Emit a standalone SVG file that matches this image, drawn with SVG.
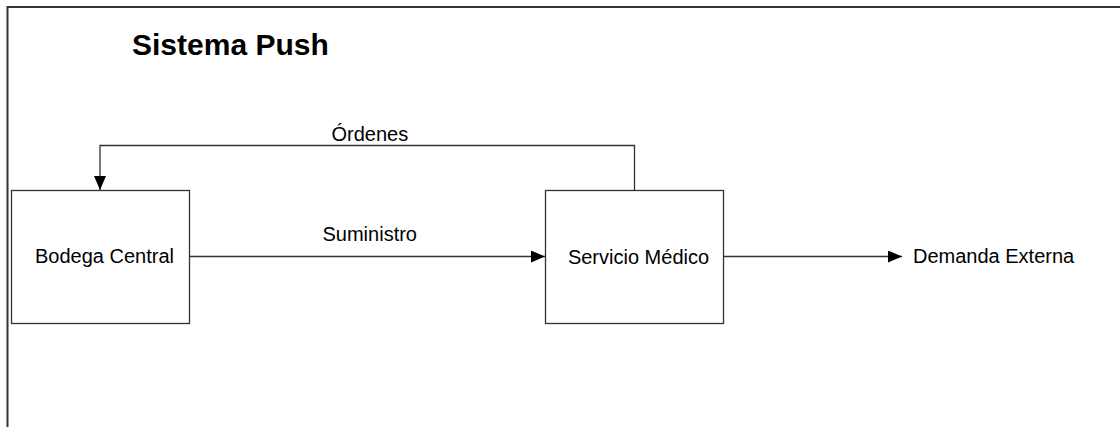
<svg xmlns="http://www.w3.org/2000/svg" width="1120" height="427" viewBox="0 0 1120 427">
<style>
text{font-family:"Liberation Sans",Arial,sans-serif;fill:#000}
.lbl{font-size:20px}
.title{font-size:30px;font-weight:bold}
.box{fill:#fff;stroke:#333;stroke-width:1.3}
.conn{fill:none;stroke:#333;stroke-width:1.3}
.frame{fill:none;stroke:#333;stroke-width:2}
</style>
<defs>
<marker id="arr" viewBox="0 0 14 12" refX="14" refY="6" markerWidth="14" markerHeight="12" markerUnits="userSpaceOnUse" orient="auto">
<path d="M0,0 L14,6 L0,12 z" fill="#000"/>
</marker>
</defs>
<rect width="1120" height="427" fill="#fff"/>
<path class="frame" d="M7.5,427 V7 H1120"/>
<text class="title" x="132" y="55">Sistema Push</text>
<g id="connectors">
<path class="conn" d="M634.5,190 V145.5 H100 V190" marker-end="url(#arr)"/>
<path class="conn" d="M190,256.5 H545" marker-end="url(#arr)"/>
<path class="conn" d="M724,256.5 H902" marker-end="url(#arr)"/>
<text class="lbl" x="331.5" y="141">Órdenes</text>
<text class="lbl" x="322.5" y="241">Suministro</text>
</g>
<g id="bodega">
<rect class="box" x="11.5" y="190.5" width="178" height="133"/>
<text class="lbl" x="104.5" y="263" text-anchor="middle">Bodega Central</text>
</g>
<g id="servicio">
<rect class="box" x="545.5" y="190.5" width="178" height="133"/>
<text class="lbl" x="638.5" y="264" text-anchor="middle">Servicio Médico</text>
</g>
<g id="demanda">
<text class="lbl" x="913" y="263">Demanda Externa</text>
</g>
</svg>
